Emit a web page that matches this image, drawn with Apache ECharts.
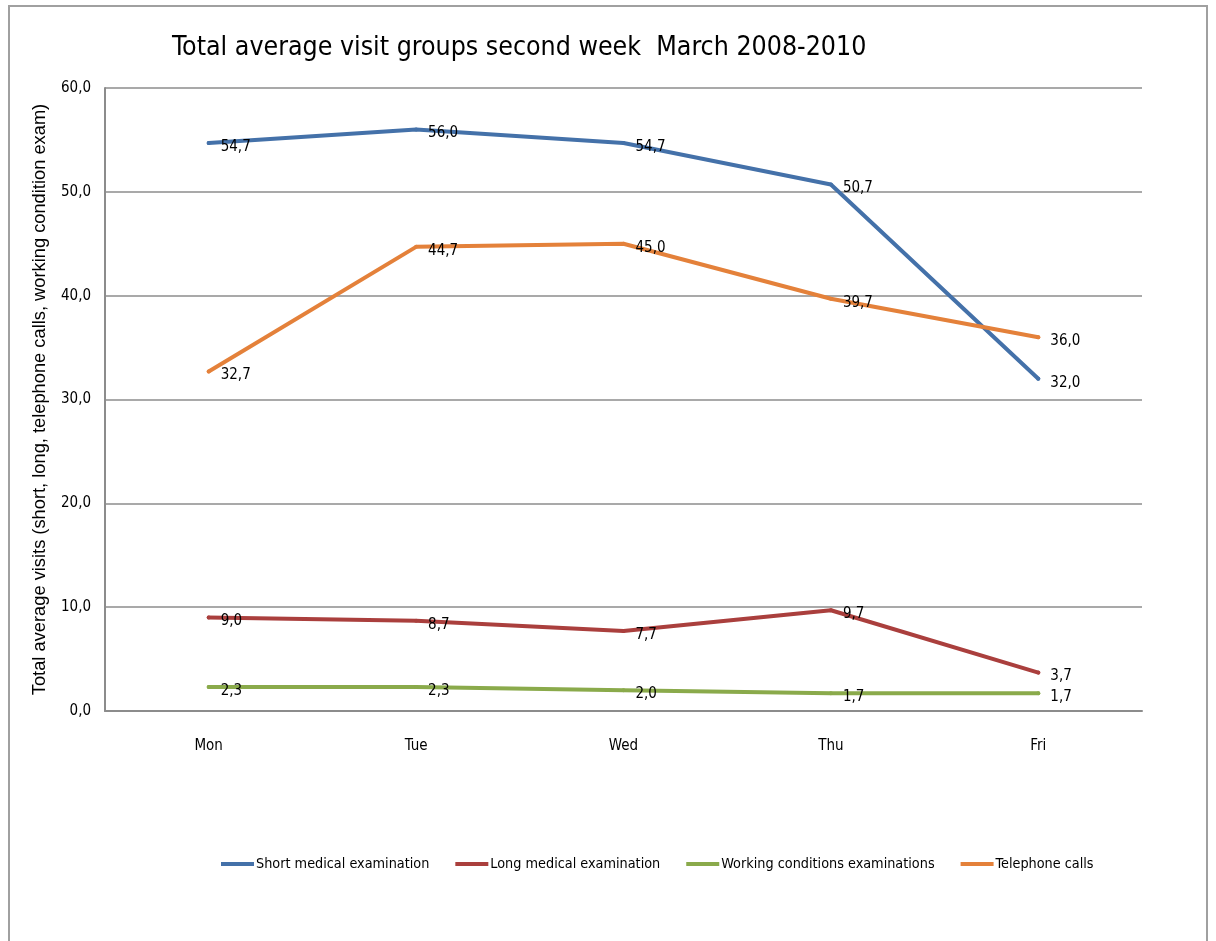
<!DOCTYPE html>
<html>
<head>
<meta charset="utf-8">
<script src="https://cdn.jsdelivr.net/npm/echarts@6/dist/echarts.min.js"></script>
<style>
  html, body { margin: 0; padding: 0; background: #fff; }
  #frame { position: absolute; left: 8px; top: 5px; width: 1200px; height: 960px;
           border: 2px solid #a0a0a0; box-sizing: border-box; }
  #chart { position: absolute; left: 0; top: 0; width: 1216px; height: 941px; }
</style>
</head>
<body>
<div id="frame"></div>
<div id="chart"></div>
<script>
// Weekday categories and the average visit counts per group
const days = ['Mon', 'Tue', 'Wed', 'Thu', 'Fri'];
const shortExam = [54.7, 56.0, 54.7, 50.7, 32.0];
const longExam = [9.0, 8.7, 7.7, 9.7, 3.7];
const workingExam = [2.3, 2.3, 2.0, 1.7, 1.7];
const phoneCalls = [32.7, 44.7, 45.0, 39.7, 36.0];
const seriesNames = ['Short medical examination', 'Long medical examination',
                     'Working conditions examinations', 'Telephone calls'];
const seriesColors = ['#4471a9', '#aa3f3d', '#8aaa4b', '#e4813a'];

const narrow = '"Liberation Sans Narrow", "DejaVu Sans Condensed", sans-serif';
const fmt = v => v.toFixed(1).replace('.', ',');

function lineSeries(name, data, color) {
  return {
    name: name,
    type: 'line',
    data: data,
    symbol: 'circle',
    symbolSize: 4,
    itemStyle: { color: color },
    lineStyle: { color: color, width: 4, cap: 'round', join: 'round' },
    label: {
      show: true,
      position: 'right',
      distance: 10,
      offset: [0, 4],
      color: '#000',
      fontFamily: narrow,
      fontSize: 15,
      formatter: p => fmt(p.value)
    },
    animation: false
  };
}

const chart = echarts.init(document.getElementById('chart'));
chart.setOption({
  backgroundColor: 'transparent',
  title: {
    text: 'Total average visit groups second week  March 2008-2010',
    left: 167,
    top: 30,
    textStyle: { fontFamily: narrow, fontSize: 26.5, fontWeight: 'normal', color: '#000' }
  },
  grid: { left: 105, right: 74, top: 88, bottom: 230 },
  legend: {
    data: seriesNames,
    left: 216,
    top: 852,
    icon: 'rect',
    itemWidth: 33,
    itemHeight: 4,
    itemGap: 26,
    textStyle: { fontFamily: narrow, fontSize: 14.3, color: '#000', padding: [0, 0, 0, -3] }
  },
  xAxis: {
    type: 'category',
    data: days,
    boundaryGap: true,
    axisLine: { lineStyle: { color: '#8c8c8c', width: 2 } },
    axisTick: { show: false },
    axisLabel: { margin: 28, color: '#000', fontFamily: narrow, fontSize: 15 }
  },
  yAxis: {
    type: 'value',
    min: 0,
    max: 60,
    interval: 10,
    name: 'Total average visits (short, long, telephone calls, working condition exam)',
    nameLocation: 'middle',
    nameGap: 56,
    nameTextStyle: { fontFamily: '"Liberation Sans", Arial, sans-serif', fontSize: 18.3, color: '#000' },
    axisLine: { show: true, lineStyle: { color: '#8c8c8c', width: 2 } },
    axisTick: { show: false },
    splitLine: { lineStyle: { color: '#8c8c8c', width: 1.5 } },
    axisLabel: { margin: 14, color: '#000', fontFamily: narrow, fontSize: 15, formatter: v => fmt(v) }
  },
  series: [
    lineSeries(seriesNames[0], shortExam, seriesColors[0]),
    lineSeries(seriesNames[1], longExam, seriesColors[1]),
    lineSeries(seriesNames[2], workingExam, seriesColors[2]),
    lineSeries(seriesNames[3], phoneCalls, seriesColors[3])
  ]
});
</script>
</body>
</html>
